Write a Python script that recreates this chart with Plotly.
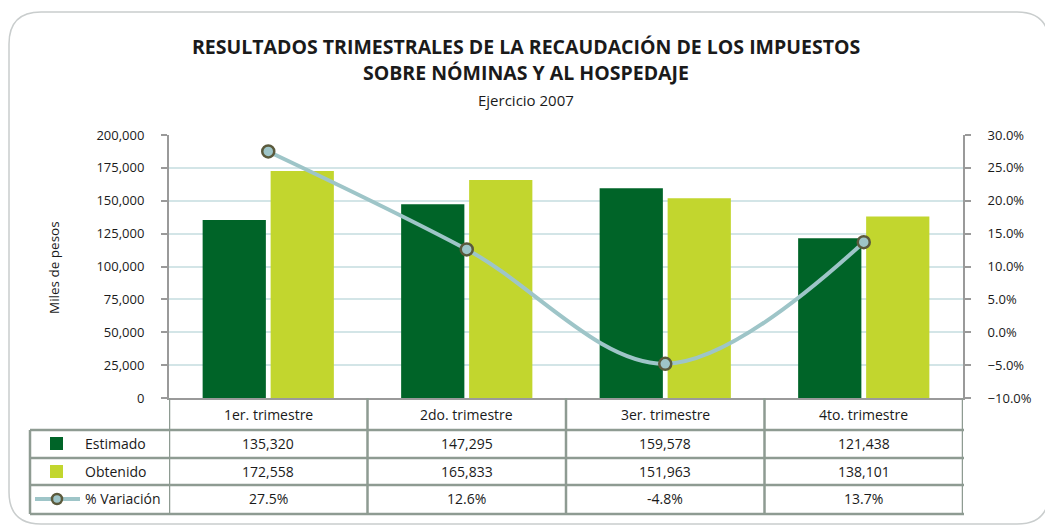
import plotly.graph_objects as go

categories = ["1er. trimestre", "2do. trimestre", "3er. trimestre", "4to. trimestre"]
estimado = [135320, 147295, 159578, 121438]
obtenido = [172558, 165833, 151963, 138101]
variacion = [27.5, 12.6, -4.8, 13.7]

W, H = 1053, 527
OFF = 8  # page body margin
L, R, T, B = 169, 963, 135, 398

def px(x):
    return (x - L) / (R - L)

def py(y):
    return (B - y) / (B - T)

FONT = "Open Sans"
TXT = "#1a1a1a"
DARK = "#006428"
LIGHT = "#C2D62E"
LINEC = "#9EC5C8"
GRID = "#D3E5E7"
AX = "#9A9A9A"
TB = "#8E9B92"

fig = go.Figure()
fig.add_trace(go.Bar(x=categories, y=estimado, name="Estimado", marker_color=DARK,
                     marker_line_width=0))
fig.add_trace(go.Bar(x=categories, y=obtenido, name="Obtenido", marker_color=LIGHT,
                     marker_line_width=0))
fig.add_trace(go.Scatter(x=categories, y=variacion, name="% Variación", yaxis="y2",
                         mode="lines+markers", line=dict(color=LINEC, width=4, shape="spline"),
                         marker=dict(size=12, color=LINEC, line=dict(color="#5B5A3C", width=2.5))))

shapes = []
# outer rounded border
x0, x1, y0, y1, r = 9, 1049, 12, 524, 32
path = (f"M {px(x0 + r)},{py(y0)} L {px(x1 - r)},{py(y0)} "
        f"Q {px(x1)},{py(y0)} {px(x1)},{py(y0 + r)} L {px(x1)},{py(y1 - r)} "
        f"Q {px(x1)},{py(y1)} {px(x1 - r)},{py(y1)} L {px(x0 + r)},{py(y1)} "
        f"Q {px(x0)},{py(y1)} {px(x0)},{py(y1 - r)} L {px(x0)},{py(y0 + r)} "
        f"Q {px(x0)},{py(y0)} {px(x0 + r)},{py(y0)} Z")
shapes.append(dict(type="path", xref="paper", yref="paper", path=path,
                   line=dict(color="#C9CDCD", width=1.5), layer="below"))

# table grid
row_lines = [430, 458, 485, 514]
for yy in row_lines:
    shapes.append(dict(type="line", xref="paper", yref="paper", x0=px(30), x1=px(R + 1),
                       y0=py(yy), y1=py(yy), line=dict(color=TB, width=2.5)))
shapes.append(dict(type="line", xref="paper", yref="paper", x0=px(30), x1=px(30),
                   y0=py(430), y1=py(514), line=dict(color=TB, width=2.5)))
for i in range(len(categories) + 1):
    shapes.append(dict(type="line", xref="x", yref="paper", x0=i - 0.5, x1=i - 0.5,
                       y0=py(B), y1=py(514), line=dict(color=TB, width=2.5)))

# legend keys
shapes.append(dict(type="rect", xref="paper", yref="paper", x0=px(50), x1=px(63),
                   y0=py(437), y1=py(450), fillcolor=DARK, line_width=0))
shapes.append(dict(type="rect", xref="paper", yref="paper", x0=px(50), x1=px(63),
                   y0=py(465), y1=py(478), fillcolor=LIGHT, line_width=0))
shapes.append(dict(type="line", xref="paper", yref="paper", x0=px(35), x1=px(80),
                   y0=py(499), y1=py(499), line=dict(color=LINEC, width=4)))
shapes.append(dict(type="circle", xref="paper", yref="paper", x0=px(52), x1=px(62),
                   y0=py(494), y1=py(504), fillcolor=LINEC,
                   line=dict(color="#5B5A3C", width=2.5)))

ann = []
rows = [(443, "Estimado", [f"{v:,}" for v in estimado]),
        (471, "Obtenido", [f"{v:,}" for v in obtenido]),
        (498, "% Variación", [f"{v:.1f}%" for v in variacion])]
CF = dict(size=14, color=TXT, family=FONT)
for c in categories:
    ann.append(dict(x=c, xref="x", y=py(414), yref="paper", text=c, showarrow=False,
                    xanchor="center", yanchor="middle", font=CF))
for yy, label, vals in rows:
    ann.append(dict(x=px(83), xref="paper", y=py(yy), yref="paper", text=label,
                    showarrow=False, xanchor="left", yanchor="middle", font=CF))
    for c, v in zip(categories, vals):
        ann.append(dict(x=c, xref="x", y=py(yy), yref="paper", text=v, showarrow=False,
                        xanchor="center", yanchor="middle", font=CF))

ann.append(dict(x=px(526), xref="paper", y=py(46), yref="paper",
                text="<b>RESULTADOS TRIMESTRALES DE LA RECAUDACIÓN DE LOS IMPUESTOS</b>",
                showarrow=False, xanchor="center", yanchor="middle",
                font=dict(size=19.5, color=TXT, family=FONT)))
ann.append(dict(x=px(526), xref="paper", y=py(72), yref="paper",
                text="<b>SOBRE NÓMINAS Y AL HOSPEDAJE</b>",
                showarrow=False, xanchor="center", yanchor="middle",
                font=dict(size=19.5, color=TXT, family=FONT)))
ann.append(dict(x=px(526), xref="paper", y=py(100), yref="paper", text="Ejercicio 2007",
                showarrow=False, xanchor="center", yanchor="middle",
                font=dict(size=15, color=TXT, family=FONT)))
ann.append(dict(x=px(54), xref="paper", y=py(267), yref="paper", text="Miles de pesos",
                textangle=-90, showarrow=False, xanchor="center", yanchor="middle",
                font=dict(size=13.5, color=TXT, family=FONT)))

TF = dict(size=13, color=TXT, family=FONT)
fig.update_layout(
    width=W - OFF, height=H - OFF,
    margin=dict(l=L - OFF, r=W - R, t=T - OFF, b=H - B, pad=0, autoexpand=False),
    paper_bgcolor="white", plot_bgcolor="white",
    showlegend=False,
    barmode="group", bargap=0.315, bargroupgap=0.07,
    font=dict(family=FONT, size=12, color=TXT),
    xaxis=dict(type="category", range=[-0.5, 3.5], showticklabels=False, ticks="",
               showgrid=False, showline=True, linecolor=AX, linewidth=2, zeroline=False),
    yaxis=dict(range=[0, 200000], dtick=25000, tickformat=",", showgrid=True,
               gridcolor=GRID, gridwidth=2, zeroline=False, showline=True,
               linecolor=AX, linewidth=2, ticks="outside", ticklen=6, tickcolor=AX,
               tickwidth=2, tickfont=TF, ticklabelstandoff=14),
    yaxis2=dict(range=[-10, 30], dtick=5, tickformat=".1f", ticksuffix="%",
                overlaying="y", side="right", showgrid=False, zeroline=False,
                showline=True, linecolor=AX, linewidth=2, ticks="outside", ticklen=6,
                tickcolor=AX, tickwidth=2, tickfont=TF, ticklabelstandoff=14),
    shapes=shapes, annotations=ann,
)

fig.write_html("out.html")
